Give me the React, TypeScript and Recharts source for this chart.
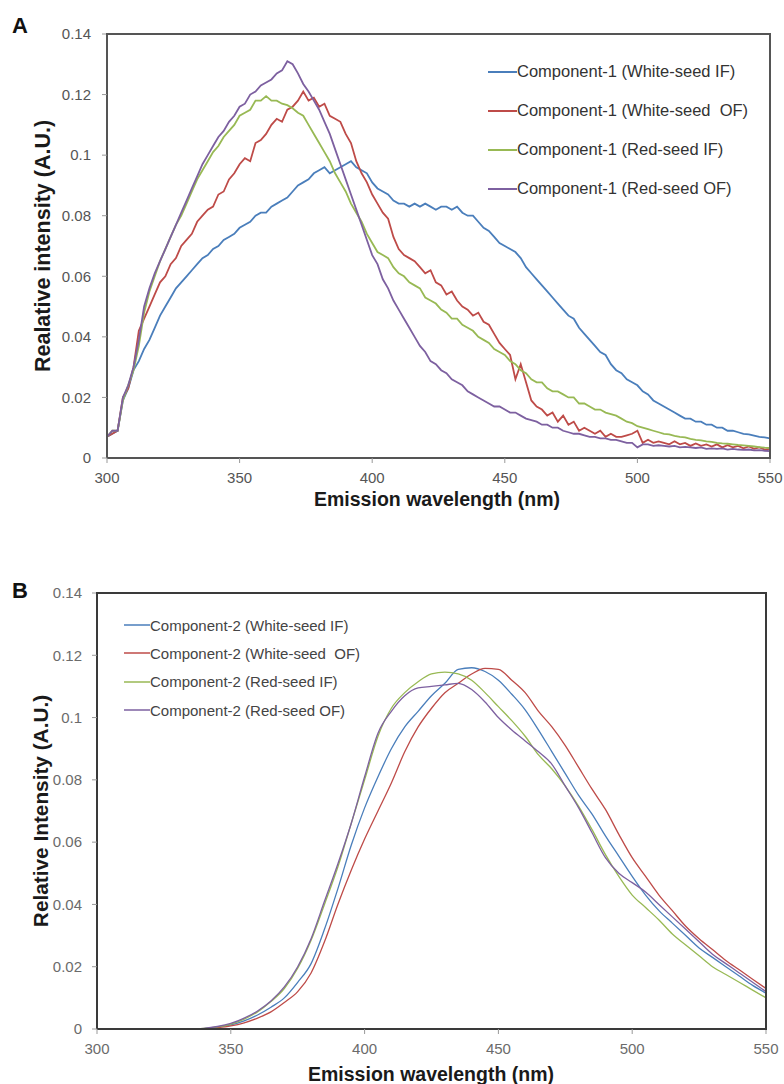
import React from 'react';
import { LineChart, Line, XAxis, YAxis, Legend } from 'recharts';

const FONT = '"Liberation Sans", Arial, Helvetica, sans-serif';

// Excel 2007 palette: white-seed IF, white-seed OF, red-seed IF, red-seed OF
const COLORS = ['#4A7EBB', '#BE4B48', '#98B954', '#7D60A0'];

const X_TICKS = [300, 350, 400, 450, 500, 550];
const Y_TICKS = [0, 0.02, 0.04, 0.06, 0.08, 0.1, 0.12, 0.14];

const NAMES_A = [
  'Component-1 (White-seed IF)',
  'Component-1 (White-seed  OF)',
  'Component-1 (Red-seed IF)',
  'Component-1 (Red-seed OF)',
];
const NAMES_B = [
  'Component-2 (White-seed IF)',
  'Component-2 (White-seed  OF)',
  'Component-2 (Red-seed IF)',
  'Component-2 (Red-seed OF)',
];

// ---- Panel A: 300..550 nm, 2 nm step (10 values per row)
const wavelengthA = Array.from({ length: 126 }, (_, i) => 300 + 2 * i);

const whiteIF_A = [
  0.007, 0.008, 0.009, 0.019, 0.023, 0.029, 0.032, 0.036, 0.039, 0.043,
  0.047, 0.05, 0.053, 0.056, 0.058, 0.06, 0.062, 0.064, 0.066, 0.067,
  0.069, 0.07, 0.072, 0.073, 0.074, 0.076, 0.077, 0.078, 0.08, 0.081,
  0.081, 0.083, 0.084, 0.085, 0.086, 0.088, 0.09, 0.091, 0.092, 0.094,
  0.095, 0.096, 0.094, 0.095, 0.096, 0.097, 0.098, 0.096, 0.095, 0.094,
  0.091, 0.089, 0.088, 0.087, 0.085, 0.084, 0.084, 0.083, 0.084, 0.083,
  0.084, 0.083, 0.082, 0.083, 0.083, 0.082, 0.083, 0.081, 0.08, 0.08,
  0.078, 0.076, 0.075, 0.073, 0.071, 0.07, 0.069, 0.068, 0.066, 0.063,
  0.061, 0.059, 0.057, 0.055, 0.053, 0.051, 0.049, 0.047, 0.046, 0.043,
  0.041, 0.039, 0.037, 0.035, 0.034, 0.031, 0.029, 0.028, 0.026, 0.025,
  0.024, 0.022, 0.021, 0.019, 0.018, 0.017, 0.016, 0.015, 0.014, 0.013,
  0.013, 0.012, 0.012, 0.011, 0.011, 0.01, 0.01, 0.009, 0.009, 0.0085,
  0.008, 0.0078, 0.0074, 0.007, 0.0068, 0.0065,
];

const whiteOF_A = [
  0.007, 0.008, 0.009, 0.02, 0.023, 0.03, 0.042, 0.046, 0.05, 0.054,
  0.058, 0.06, 0.064, 0.066, 0.07, 0.072, 0.074, 0.078, 0.08, 0.082,
  0.083, 0.087, 0.088, 0.092, 0.094, 0.097, 0.099, 0.098, 0.104, 0.105,
  0.107, 0.11, 0.112, 0.111, 0.115, 0.116, 0.118, 0.121, 0.118, 0.119,
  0.116, 0.117, 0.113, 0.112, 0.111, 0.107, 0.104, 0.098, 0.094, 0.091,
  0.087, 0.084, 0.081, 0.079, 0.073, 0.069, 0.067, 0.066, 0.065, 0.063,
  0.061, 0.062, 0.058, 0.057, 0.054, 0.055, 0.052, 0.05, 0.049, 0.047,
  0.048, 0.045, 0.044, 0.041, 0.038, 0.036, 0.034, 0.026, 0.031, 0.025,
  0.019, 0.017, 0.016, 0.014, 0.015, 0.012, 0.014, 0.011, 0.012, 0.009,
  0.01, 0.009, 0.008, 0.009, 0.007, 0.008, 0.007, 0.007, 0.0075, 0.008,
  0.009, 0.005, 0.006, 0.005, 0.0055, 0.005, 0.0045, 0.0055, 0.0045, 0.005,
  0.004, 0.0048, 0.004, 0.0045, 0.0038, 0.0045, 0.0035, 0.0042, 0.0035, 0.004,
  0.0032, 0.0038, 0.003, 0.0035, 0.0028, 0.003,
];

const redIF_A = [
  0.007, 0.009, 0.009, 0.019, 0.024, 0.029, 0.037, 0.048, 0.055, 0.06,
  0.065, 0.069, 0.073, 0.077, 0.08, 0.084, 0.088, 0.092, 0.095, 0.098,
  0.101, 0.103, 0.106, 0.108, 0.11, 0.113, 0.114, 0.115, 0.118, 0.118,
  0.1195, 0.118, 0.118, 0.117, 0.1165, 0.1155, 0.114, 0.113, 0.11, 0.107,
  0.104, 0.101, 0.098, 0.094, 0.091, 0.088, 0.084, 0.081, 0.078, 0.074,
  0.071, 0.068, 0.067, 0.066, 0.063, 0.061, 0.06, 0.058, 0.057, 0.056,
  0.053, 0.052, 0.051, 0.049, 0.048, 0.046, 0.046, 0.044, 0.043, 0.042,
  0.04, 0.039, 0.038, 0.036, 0.035, 0.034, 0.032, 0.031, 0.029, 0.028,
  0.026, 0.025, 0.025, 0.023, 0.022, 0.022, 0.021, 0.02, 0.02, 0.018,
  0.018, 0.017, 0.016, 0.016, 0.015, 0.0145, 0.014, 0.013, 0.012, 0.0115,
  0.0105, 0.01, 0.0095, 0.009, 0.0085, 0.008, 0.0078, 0.0073, 0.007, 0.0068,
  0.0063, 0.006, 0.0058, 0.0055, 0.0053, 0.005, 0.0048, 0.0047, 0.0045, 0.0043,
  0.0042, 0.004, 0.0038, 0.0036, 0.0034, 0.0033,
];

const redOF_A = [
  0.007, 0.009, 0.009, 0.02, 0.024, 0.03, 0.039, 0.05, 0.056, 0.061,
  0.065, 0.069, 0.073, 0.077, 0.081, 0.085, 0.089, 0.093, 0.097, 0.1,
  0.103, 0.106, 0.108, 0.111, 0.113, 0.116, 0.117, 0.12, 0.121, 0.123,
  0.124, 0.125, 0.127, 0.128, 0.131, 0.13, 0.127, 0.1235, 0.121, 0.118,
  0.115, 0.111, 0.107, 0.102, 0.097, 0.092, 0.087, 0.082, 0.077, 0.072,
  0.067, 0.064, 0.059, 0.056, 0.052, 0.049, 0.046, 0.043, 0.04, 0.037,
  0.035, 0.032, 0.031, 0.029, 0.028, 0.026, 0.025, 0.024, 0.022, 0.021,
  0.02, 0.019, 0.018, 0.017, 0.017, 0.016, 0.015, 0.015, 0.014, 0.013,
  0.0125, 0.012, 0.011, 0.011, 0.01, 0.01, 0.009, 0.0085, 0.008, 0.008,
  0.0075, 0.007, 0.007, 0.0065, 0.0065, 0.006, 0.006, 0.0055, 0.005, 0.005,
  0.0035, 0.0045, 0.0045, 0.004, 0.0042, 0.004, 0.0038, 0.004, 0.0035, 0.0037,
  0.0035, 0.0033, 0.0035, 0.003, 0.0032, 0.003, 0.0032, 0.0028, 0.003, 0.0028,
  0.0027, 0.0028, 0.0025, 0.0026, 0.0024, 0.0023,
];

// ---- Panel B: 300..550 nm, 5 nm step
const wavelengthB = Array.from({ length: 51 }, (_, i) => 300 + 5 * i);

const whiteIF_B = [
  0, 0, 0, 0, 0, 0, 0, 0, 0.0001, 0.0006,
  0.0013, 0.0026, 0.0045, 0.007, 0.01, 0.015, 0.021, 0.032, 0.045, 0.059,
  0.071, 0.081, 0.09, 0.097, 0.102, 0.107, 0.111, 0.1155, 0.116, 0.1148,
  0.112, 0.1075, 0.1025, 0.096, 0.089, 0.082, 0.075, 0.069, 0.062, 0.0555,
  0.049, 0.043, 0.038, 0.034, 0.03, 0.026, 0.023, 0.02, 0.017, 0.014,
  0.0115,
];

const whiteOF_B = [
  0, 0, 0, 0, 0, 0, 0, 0, 0, 0.0004,
  0.001, 0.002, 0.0035, 0.0055, 0.0085, 0.012, 0.018, 0.028, 0.04, 0.051,
  0.061, 0.07, 0.079, 0.089, 0.097, 0.103, 0.108, 0.111, 0.114, 0.1158,
  0.1155, 0.112, 0.108, 0.102, 0.097, 0.091, 0.084, 0.077, 0.0705, 0.0625,
  0.055, 0.049, 0.043, 0.038, 0.033, 0.029, 0.0255, 0.022, 0.019, 0.016,
  0.013,
];

const redIF_B = [
  0, 0, 0, 0, 0, 0, 0, 0, 0.0002, 0.0007,
  0.0016, 0.0032, 0.0055, 0.0088, 0.013, 0.0195, 0.0285, 0.04, 0.052, 0.066,
  0.08, 0.094, 0.103, 0.108, 0.1115, 0.114, 0.1146, 0.114, 0.112, 0.108,
  0.1035, 0.099, 0.094, 0.088, 0.0835, 0.078, 0.0715, 0.064, 0.056, 0.049,
  0.043, 0.039, 0.035, 0.0305, 0.027, 0.0235, 0.02, 0.0175, 0.015, 0.0125,
  0.01,
];

const redOF_B = [
  0, 0, 0, 0, 0, 0, 0, 0, 0.0002, 0.0008,
  0.0018, 0.0035, 0.0058, 0.009, 0.0135, 0.02, 0.029, 0.041, 0.053, 0.066,
  0.081, 0.095, 0.102, 0.107, 0.1095, 0.11, 0.1105, 0.111, 0.109, 0.105,
  0.1, 0.096, 0.0925, 0.089, 0.085, 0.078, 0.071, 0.063, 0.055, 0.05,
  0.047, 0.044, 0.04, 0.036, 0.032, 0.028, 0.024, 0.021, 0.018, 0.015,
  0.012,
];

const dataA = wavelengthA.map((wl, i) => ({
  wl,
  s0: whiteIF_A[i],
  s1: whiteOF_A[i],
  s2: redIF_A[i],
  s3: redOF_A[i],
}));

const dataB = wavelengthB.map((wl, i) => ({
  wl,
  s0: whiteIF_B[i],
  s1: whiteOF_B[i],
  s2: redIF_B[i],
  s3: redOF_B[i],
}));

const fmtY = (v: number) => (v === 0 ? '0' : String(+v.toFixed(2)));

const makeLegend =
  (lineW: number, rowH: number, fontSize: number, textColor: string, strokeW: number) =>
  ({ payload }: any) => (
    <div style={{ fontFamily: FONT, fontSize, color: textColor }}>
      {(payload || []).map((p: any) => (
        <div key={p.value} style={{ display: 'flex', alignItems: 'center', height: rowH }}>
          <svg width={lineW} height={4} style={{ display: 'block' }}>
            <line x1={0} y1={2} x2={lineW} y2={2} stroke={p.color} strokeWidth={strokeW} />
          </svg>
          <span style={{ whiteSpace: 'pre' }}>{p.value}</span>
        </div>
      ))}
    </div>
  );

const X_AXIS_H = 30;

type PanelProps = {
  data: any[];
  names: string[];
  height: number;
  plot: { top: number; bottom: number; left: number; right: number };
  yLabelRight: number;
  letter: string;
  letterY: number;
  yTitle: string;
  yTitleX: number;
  yTitleSize: number;
  xTitleX: number;
  xTitleY: number;
  tickColor: string;
  borderColor: string;
  strokeW: number;
  curve: 'linear' | 'monotone';
  legend: { left: number; top: number; lineW: number; rowH: number; fontSize: number; color: string };
};

function Panel(p: PanelProps) {
  const { top, bottom, left, right } = p.plot;
  const yMid = (top + bottom) / 2;
  const tickStyle = { fontFamily: FONT, fontSize: 15, fill: p.tickColor };
  const frame = { stroke: p.borderColor, strokeWidth: 2 };
  const margin = { top, right: 784 - right, bottom: p.height - bottom - X_AXIS_H, left: 0 };
  const edge = {
    position: 'absolute' as const,
    background: p.borderColor,
    pointerEvents: 'none' as const,
    zIndex: 10,
  };

  return (
    <div style={{ position: 'relative', width: 784, height: p.height }}>
      <LineChart width={784} height={p.height} data={p.data} margin={margin}>
        <XAxis
          dataKey="wl"
          type="number"
          domain={[300, 550]}
          ticks={X_TICKS}
          height={X_AXIS_H}
          allowDataOverflow
          tick={tickStyle}
          tickSize={5}
          tickMargin={9}
          tickLine={{ stroke: '#999' }}
          axisLine={frame}
          label={{
            content: () => (
              <text
                x={p.xTitleX}
                y={p.xTitleY}
                textAnchor="middle"
                style={{ fontFamily: FONT, fontSize: 19.5, fontWeight: 'bold', fill: '#1a1a1a' }}
              >
                Emission wavelength (nm)
              </text>
            ),
          }}
        />
        <YAxis
          type="number"
          domain={[0, 0.14]}
          ticks={Y_TICKS}
          width={left}
          tickFormatter={fmtY}
          tick={tickStyle}
          tickSize={5}
          tickMargin={left - 5 - p.yLabelRight}
          tickLine={{ stroke: '#999' }}
          axisLine={frame}
          label={{
            content: () => (
              <g>
                <text
                  x={12}
                  y={p.letterY}
                  style={{ fontFamily: FONT, fontSize: 22, fontWeight: 'bold', fill: '#111' }}
                >
                  {p.letter}
                </text>
                <text
                  x={p.yTitleX}
                  y={yMid}
                  textAnchor="middle"
                  dominantBaseline="central"
                  transform={`rotate(-90, ${p.yTitleX}, ${yMid})`}
                  style={{ fontFamily: FONT, fontSize: p.yTitleSize, fontWeight: 'bold', fill: '#1a1a1a' }}
                >
                  {p.yTitle}
                </text>
              </g>
            ),
          }}
        />
        {/* horizontal + middle so the legend reserves no space; placed by wrapperStyle */}
        <Legend
          layout="horizontal"
          align="center"
          verticalAlign="middle"
          itemSorter="dataKey"
          wrapperStyle={{ left: p.legend.left, top: p.legend.top, width: 300 }}
          content={makeLegend(p.legend.lineW, p.legend.rowH, p.legend.fontSize, p.legend.color, p.strokeW + 0.2)}
        />
        {p.names.map((name, i) => (
          <Line
            key={name}
            type={p.curve}
            dataKey={`s${i}`}
            name={name}
            stroke={COLORS[i]}
            strokeWidth={p.strokeW}
            dot={false}
            activeDot={false}
            isAnimationActive={false}
          />
        ))}
      </LineChart>
      {/* top and right edges of the Excel-style plot box */}
      <div style={{ ...edge, left: left - 1, top: top - 1, width: right - left + 2, height: 2 }} />
      <div style={{ ...edge, left: right - 1, top: top - 1, width: 2, height: bottom - top + 2 }} />
    </div>
  );
}

export default function App() {
  return (
    <div
      style={{
        position: 'absolute',
        left: 0,
        top: 0,
        width: 784,
        height: 1084,
        background: '#fff',
        overflow: 'hidden',
      }}
    >
      <div style={{ position: 'absolute', left: 0, top: 0 }}>
        <Panel
          data={dataA}
          names={NAMES_A}
          height={520}
          plot={{ top: 34, bottom: 458, left: 107, right: 770 }}
          yLabelRight={91}
          letter="A"
          letterY={33}
          yTitle="Realative intensity (A.U.)"
          yTitleX={43}
          yTitleSize={21.5}
          xTitleX={437}
          xTitleY={506}
          tickColor="#555"
          borderColor="#555"
          strokeW={1.8}
          curve="linear"
          legend={{ left: 488, top: 52, lineW: 29, rowH: 39, fontSize: 16.5, color: '#333' }}
        />
      </div>
      <div style={{ position: 'absolute', left: 0, top: 540 }}>
        <Panel
          data={dataB}
          names={NAMES_B}
          height={544}
          plot={{ top: 53, bottom: 489, left: 97, right: 766 }}
          yLabelRight={82}
          letter="B"
          letterY={58}
          yTitle="Relative Intensity (A.U.)"
          yTitleX={40}
          yTitleSize={20.8}
          xTitleX={431}
          xTitleY={541}
          tickColor="#6b6b6b"
          borderColor="#3a3a3a"
          strokeW={1.3}
          curve="monotone"
          legend={{ left: 124, top: 71, lineW: 26, rowH: 28.3, fontSize: 15, color: '#444' }}
        />
      </div>
    </div>
  );
}
